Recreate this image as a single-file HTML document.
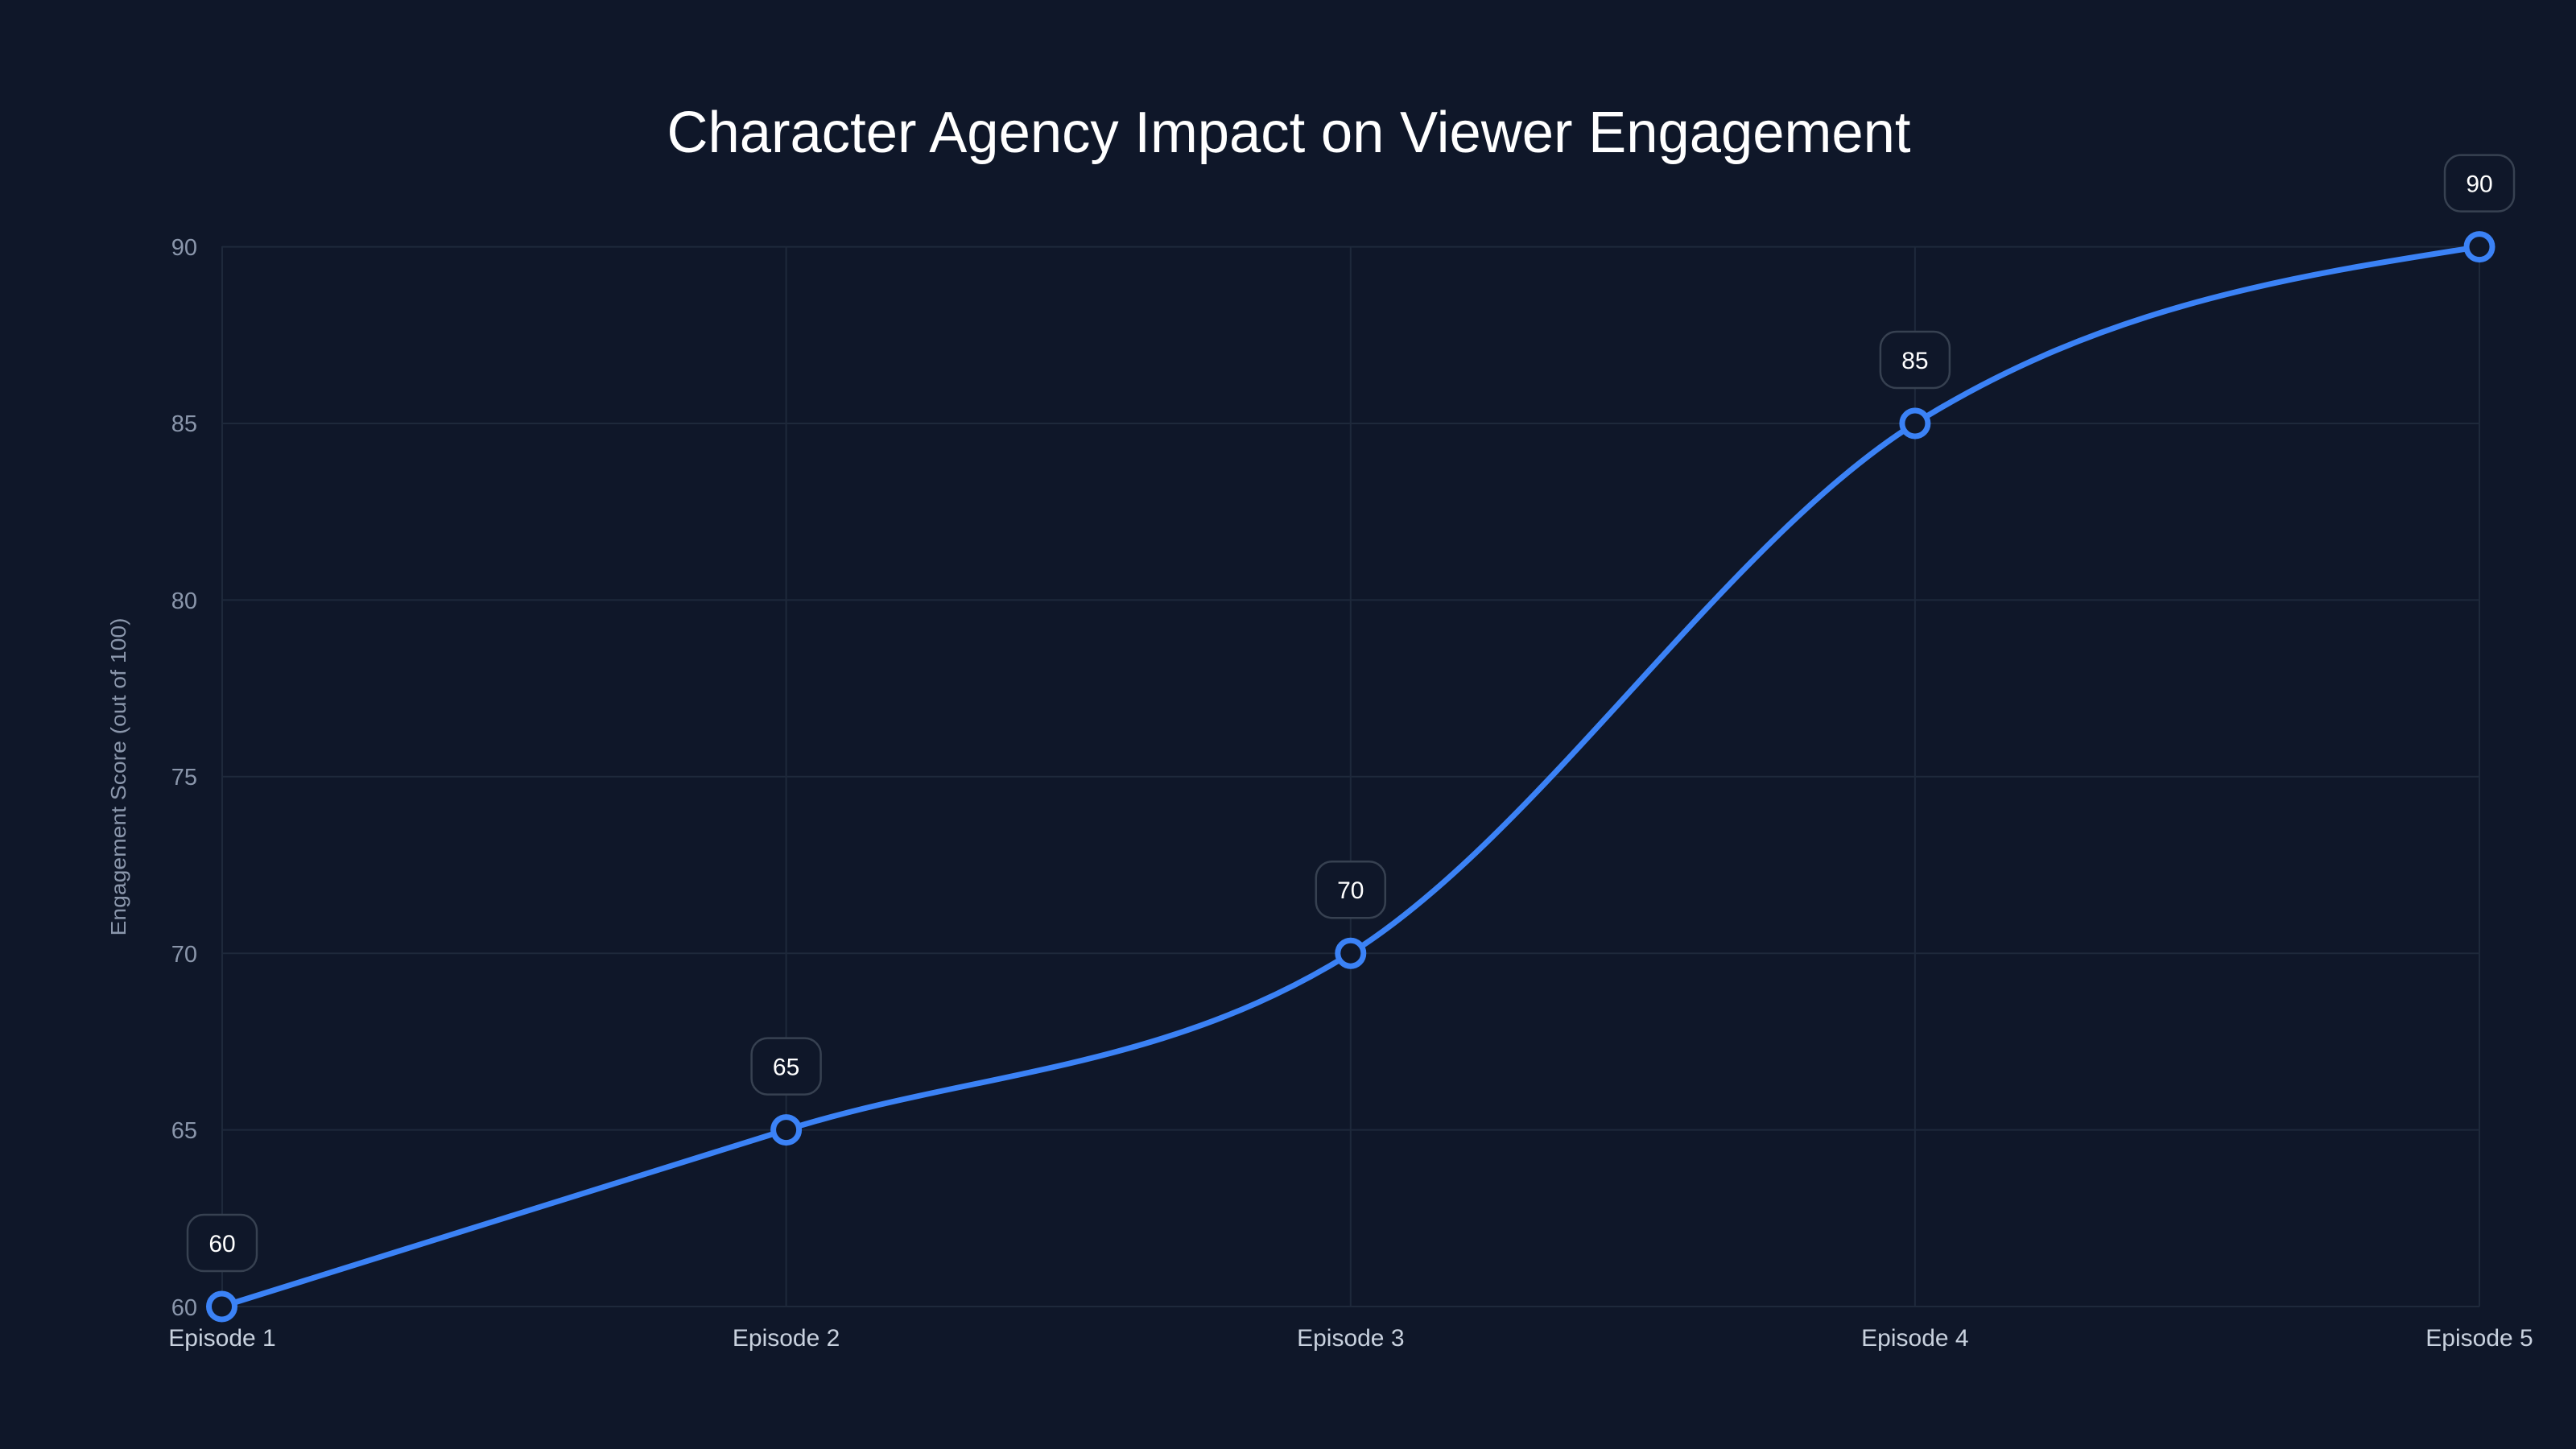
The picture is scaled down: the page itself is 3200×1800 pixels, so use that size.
<!DOCTYPE html>
<html><head><meta charset="utf-8"><style>
html,body{margin:0;padding:0;background:#0f172a;}
svg{display:block}
text{font-family:"Liberation Sans",sans-serif}
</style></head><body>
<svg width="3200" height="1800" viewBox="0 0 3200 1800" xmlns="http://www.w3.org/2000/svg">
<rect width="3200" height="1800" fill="#0f1729"/>
<text x="1601" y="189" font-size="72" fill="#ffffff" text-anchor="middle" textLength="1545" lengthAdjust="spacingAndGlyphs">Character Agency Impact on Viewer Engagement</text>
<g stroke="#1e293b" stroke-width="2">
<line x1="276" y1="306.6" x2="3080" y2="306.6"/>
<line x1="276" y1="526" x2="3080" y2="526"/>
<line x1="276" y1="745.4" x2="3080" y2="745.4"/>
<line x1="276" y1="964.8" x2="3080" y2="964.8"/>
<line x1="276" y1="1184.2" x2="3080" y2="1184.2"/>
<line x1="276" y1="1403.6" x2="3080" y2="1403.6"/>
<line x1="276" y1="1623" x2="3080" y2="1623"/>
<line x1="276" y1="306" x2="276" y2="1623"/>
<line x1="976.6" y1="306" x2="976.6" y2="1623"/>
<line x1="1677.8" y1="306" x2="1677.8" y2="1623"/>
<line x1="2378.9" y1="306" x2="2378.9" y2="1623"/>
<line x1="3080" y1="306" x2="3080" y2="1623"/>
</g>
<g font-size="29" fill="#8a96ab" text-anchor="end">
<text x="245" y="317">90</text>
<text x="245" y="536">85</text>
<text x="245" y="756">80</text>
<text x="245" y="975">75</text>
<text x="245" y="1195">70</text>
<text x="245" y="1414">65</text>
<text x="245" y="1634">60</text>
</g>
<g font-size="30" fill="#c8d1de" text-anchor="middle">
<text x="276" y="1672">Episode 1</text>
<text x="976.6" y="1672">Episode 2</text>
<text x="1677.8" y="1672">Episode 3</text>
<text x="2378.9" y="1672">Episode 4</text>
<text x="3080" y="1672">Episode 5</text>
</g>
<text transform="translate(156,965) rotate(-90)" font-size="26" fill="#8a96ab" text-anchor="middle" textLength="395" lengthAdjust="spacingAndGlyphs">Engagement Score (out of 100)</text>
<path d="M275.5,1623 C509.2,1549.9 742.9,1476.7 976.6,1403.6 C1210.3,1330.5 1444.1,1330.5 1677.8,1184.2 C1911.5,1038 2145.2,672.3 2378.9,526 C2612.6,379.7 2846.3,343.1 3080,306.6" fill="none" stroke="#3b82f6" stroke-width="7" stroke-linecap="round"/>
<g fill="#0f1729" stroke="#3b82f6" stroke-width="7">
<circle cx="275.5" cy="1623" r="16"/>
<circle cx="976.6" cy="1403.6" r="16"/>
<circle cx="1677.8" cy="1184.2" r="16"/>
<circle cx="2378.9" cy="526" r="16"/>
<circle cx="3080" cy="306.6" r="16"/>
</g>
<g fill="#0f1729" stroke="#374151" stroke-width="2.5">
<rect x="233" y="1509" width="86" height="70" rx="20"/>
<rect x="933.6" y="1289.6" width="86" height="70" rx="20"/>
<rect x="1634.8" y="1070.2" width="86" height="70" rx="20"/>
<rect x="2335.9" y="412" width="86" height="70" rx="20"/>
<rect x="3037" y="192.6" width="86" height="70" rx="20"/>
</g>
<g font-size="30" fill="#ffffff" text-anchor="middle">
<text x="276" y="1555">60</text>
<text x="976.6" y="1335.6">65</text>
<text x="1677.8" y="1116.2">70</text>
<text x="2378.9" y="458">85</text>
<text x="3080" y="238.6">90</text>
</g>
</svg>
</body></html>
